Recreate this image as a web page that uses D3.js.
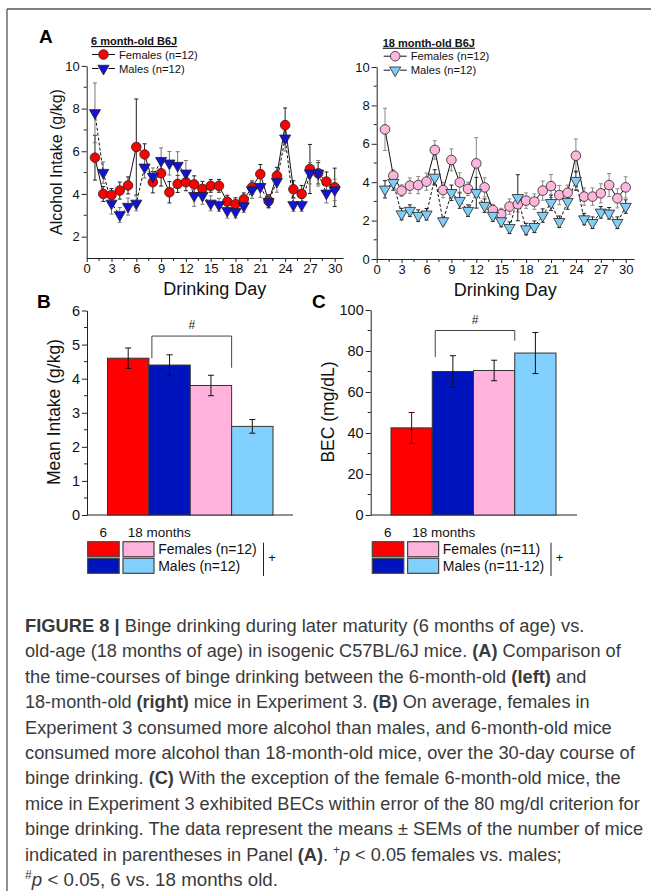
<!DOCTYPE html>
<html><head><meta charset="utf-8">
<script src="https://cdn.jsdelivr.net/npm/d3@7"></script>
<style>
body{margin:0;background:#fff}
svg{display:block}
text{font-family:"Liberation Sans",Arial,sans-serif}
</style>
</head><body>
<svg id="fig" width="651" height="891"></svg>
<script>
// ---------------- DATA ----------------
const days = d3.range(1, 31);
const fem6  = [5.7,4.0,3.95,4.16,4.4,6.2,5.85,4.55,4.97,4.08,4.47,4.55,4.45,4.24,4.38,4.38,3.64,3.52,3.75,4.31,4.93,3.67,4.85,7.23,4.22,4.0,5.17,4.97,4.58,4.31];
const fem6Err = [1.05,.35,.3,.4,.4,2.25,.5,.5,.6,.5,.4,.4,.4,.35,.3,.3,.3,.3,.3,.3,.45,.3,.4,.8,.4,.4,1.15,.5,.45,.9];
const mal6  = [7.8,5.0,3.56,3.02,3.41,3.56,5.25,4.82,5.56,5.44,5.33,4.97,3.92,3.92,3.56,3.49,3.22,3.17,3.44,4.19,4.34,3.64,4.58,6.61,3.49,3.49,4.97,4.97,4.03,4.19];
const mal6Err = [1.4,.5,.5,.35,.4,.35,.5,.4,.6,.55,.65,.6,.5,.4,.35,.3,.35,.3,.3,.4,.5,.3,.5,.6,.3,.3,.5,.6,.45,.5];
const fem18 = [6.75,4.34,3.56,3.82,3.85,4.03,5.68,3.59,5.16,3.99,3.65,4.98,3.73,2.55,2.34,2.73,2.85,3.04,2.99,3.56,3.8,3.33,3.45,5.38,3.25,3.25,3.42,3.85,3.16,3.73];
const fem18Err = [1.1,.3,.3,.4,.45,.45,.48,.4,.57,.5,.35,1.34,.5,.3,.3,.4,.4,.4,.4,.5,.6,.5,.4,.87,.45,.45,.5,.6,.5,.55];
const mal18 = [3.63,3.98,2.34,2.52,2.26,2.33,4.25,1.98,3.45,3.04,2.52,3.45,2.78,2.26,1.98,1.63,3.19,1.56,1.68,2.26,2.93,1.94,2.99,4.08,2.08,1.89,2.43,2.38,1.89,2.73];
const mal18Err = [.45,.4,.3,.3,.3,.3,.4,.2,.4,.4,.3,.8,.35,.3,.3,.3,1.2,.3,.3,.35,.4,.3,.4,.5,.3,.3,.3,.3,.3,.35];

const groups = ["F6","M6","F18","M18"];
const intakeMean = [4.6, 4.4, 3.8, 2.6];
const intakeSEM  = [0.3, 0.3, 0.3, 0.2];
const becMean = [42.5, 70, 70.5, 79];
const becSEM  = [7.5, 7.7, 5, 10];
const bracketB = [4.6, 5.25, 4.32];   // left leg bottom, top, right leg bottom
const bracketC = [77, 90, 85];

const dayTicks = d3.range(0, 31, 3);
const dayMinor = d3.range(1.5, 31, 3);
const leftYTicks = [2,4,6,8,10], leftYMinor = [3,5,7,9];
const rightYTicks = [0,2,4,6,8,10], rightYMinor = [1,3,5,7,9];
const bTicks = [0,1,2,3,4,5,6], bMinor = [0.5,1.5,2.5,3.5,4.5,5.5];
const cTicks = [0,20,40,60,80,100], cMinor = [10,30,50,70,90];

const legendA6 = ["6 month-old B6J","Females (n=12)","Males (n=12)"];
const legendA18 = ["18 month-old B6J","Females (n=12)","Males (n=12)"];
const legendB = ["Females (n=12)","Males (n=12)"];
const legendC = ["Females (n=11)","Males (n=11-12)"];

const colors = {F6:"#ff0000", M6:"#0014bd", F18:"#ffb2dc", M18:"#82d0fd"};
const markerColors = {F6:"#ff0000", M6:"#1212d8", F18:"#ffb6dc", M18:"#80cef6"};

const caption = [
 [["FIGURE 8 | ","b"],["Binge drinking during later maturity (6 months of age) vs.","n"]],
 [["old-age (18 months of age) in isogenic C57BL/6J mice. ","n"],["(A)","b"],[" Comparison of","n"]],
 [["the time-courses of binge drinking between the 6-month-old ","n"],["(left)","b"],[" and","n"]],
 [["18-month-old ","n"],["(right)","b"],[" mice in Experiment 3. ","n"],["(B)","b"],[" On average, females in","n"]],
 [["Experiment 3 consumed more alcohol than males, and 6-month-old mice","n"]],
 [["consumed more alcohol than 18-month-old mice, over the 30-day course of","n"]],
 [["binge drinking. ","n"],["(C)","b"],[" With the exception of the female 6-month-old mice, the","n"]],
 [["mice in Experiment 3 exhibited BECs within error of the 80 mg/dl criterion for","n"]],
 [["binge drinking. The data represent the means \u00b1 SEMs of the number of mice","n"]],
 [["indicated in parentheses in Panel ","n"],["(A)","b"],[". ","n"],["+","sup"],["p","i"],[" < 0.05 females vs. males;","n"]],
 [["#","sup"],["p","i"],[" < 0.05, 6 vs. 18 months old.","n"]]
];
const captionEnds = [585,621,587,590,612,635,621,640,644,562,278];

// ---------------- DRAW ----------------
const svg = d3.select("#fig");
const AX = "#222";

// frame lines
svg.append("line").attr("x1",7).attr("y1",9).attr("x2",651).attr("y2",9).attr("stroke","#555").attr("stroke-width",1.3);
svg.append("line").attr("x1",7).attr("y1",9).attr("x2",7).attr("y2",891).attr("stroke","#555").attr("stroke-width",1.3);

function style(g, fs){
  g.selectAll("path,line").attr("stroke",AX).attr("stroke-width",1);
  g.selectAll("text").attr("fill","#111").style("font-size",fs+"px").style("font-family",'"Liberation Sans",Arial,sans-serif');
}
function minorY(g, scale, vals, x0){
  g.selectAll(null).data(vals).enter().append("line")
   .attr("x1",x0).attr("x2",x0-3).attr("y1",d=>scale(d)).attr("y2",d=>scale(d)).attr("stroke",AX);
}
function minorX(g, scale, vals, y0){
  g.selectAll(null).data(vals).enter().append("line")
   .attr("y1",y0).attr("y2",y0+3).attr("x1",d=>scale(d)).attr("x2",d=>scale(d)).attr("stroke",AX);
}
function drawMarker(g, shape, cx, cy, fill){
  if(shape==="circle"){
    g.append("circle").attr("cx",cx).attr("cy",cy).attr("r",4.8).attr("fill",fill).attr("stroke","#222").attr("stroke-width",0.8);
  } else {
    g.append("path").attr("d", d3.symbol().type(d3.symbolTriangle).size(54)())
      .attr("transform",`translate(${cx},${cy}) rotate(180)`).attr("fill",fill).attr("stroke","#222").attr("stroke-width",0.8);
  }
}

function timePanel(cfg){
  const x = d3.scaleLinear().domain([0,31]).range(cfg.xr);
  const y = d3.scaleLinear().domain(cfg.yd).range(cfg.yr);
  const g = svg.append("g");
  const gx = g.append("g").attr("transform",`translate(0,${cfg.yr[0]})`)
    .call(d3.axisBottom(x).tickValues(dayTicks).tickSize(4).tickSizeOuter(0).tickPadding(2));
  style(gx,13);
  minorX(g, x, dayMinor, cfg.yr[0]);
  const gy = g.append("g").attr("transform",`translate(${cfg.xr[0]},0)`)
    .call(d3.axisLeft(y).tickValues(cfg.yt).tickSize(5).tickSizeOuter(0).tickPadding(2));
  style(gy,13);
  minorY(g, y, cfg.ym, cfg.xr[0]);

  const series = [
    {v:cfg.f, e:cfg.fe, key:cfg.fk, shape:"circle", dash:null, ec:cfg.fec},
    {v:cfg.m, e:cfg.me, key:cfg.mk, shape:"tri", dash:"3,2", ec:cfg.mec}
  ];
  series.forEach(s=>{
    const eb = g.append("g").attr("stroke",s.ec).attr("stroke-width",1);
    days.forEach((d,i)=>{
      const xx=x(d), y1=y(s.v[i]-s.e[i]), y2=y(s.v[i]+s.e[i]);
      eb.append("line").attr("x1",xx).attr("x2",xx).attr("y1",y1).attr("y2",y2);
      eb.append("line").attr("x1",xx-2).attr("x2",xx+2).attr("y1",y1).attr("y2",y1);
      eb.append("line").attr("x1",xx-2).attr("x2",xx+2).attr("y1",y2).attr("y2",y2);
    });
  });
  series.forEach(s=>{
    g.append("path").datum(s.v).attr("fill","none").attr("stroke","#111").attr("stroke-width",1)
      .attr("stroke-dasharray",s.dash)
      .attr("d", d3.line().x((v,i)=>x(days[i])).y(v=>y(v)));
  });
  series.forEach(s=>{
    const mk = g.append("g");
    s.v.forEach((v,i)=>drawMarker(mk, s.shape, x(days[i]), y(v), markerColors[s.key]));
  });

  // legend
  const lg = g.append("g");
  lg.append("text").attr("x",cfg.lx).attr("y",cfg.ly).text(cfg.leg[0])
    .style("font-size","11px").style("font-weight","bold").style("text-decoration","underline").attr("fill","#111");
  [[cfg.fk,"circle"],[cfg.mk,"tri"]].forEach((r,i)=>{
    const cy = cfg.ly + 9.5 + i*14;
    const mx = cfg.lx + 12.5;
    lg.append("line").attr("x1",mx-11.5).attr("x2",mx-5).attr("y1",cy).attr("y2",cy).attr("stroke","#111");
    lg.append("line").attr("x1",mx+5).attr("x2",mx+11.5).attr("y1",cy).attr("y2",cy).attr("stroke","#111");
    drawMarker(lg, r[1], mx, cy, markerColors[r[0]]);
    lg.append("text").attr("x",mx+15.5).attr("y",cy+4).text(cfg.leg[i+1]).style("font-size","11.2px").attr("fill","#111");
  });

  g.append("text").attr("x",(cfg.xr[0]+cfg.xr[1])/2).attr("y",cfg.yr[0]+37).attr("text-anchor","middle")
    .style("font-size","18px").attr("fill","#111").text("Drinking Day");
  return {x,y};
}

timePanel({xr:[86.7,343], yr:[258,65.9], yd:[1,10], yt:leftYTicks, ym:leftYMinor,
  f:fem6, fe:fem6Err, m:mal6, me:mal6Err, fk:"F6", mk:"M6", fec:"#222", mec:"#777",
  lx:91, ly:45, leg:legendA6});
timePanel({xr:[376.7,634], yr:[259,67], yd:[0,10], yt:rightYTicks, ym:rightYMinor,
  f:fem18, fe:fem18Err, m:mal18, me:mal18Err, fk:"F18", mk:"M18", fec:"#888", mec:"#222",
  lx:382.7, ly:46.7, leg:legendA18});

svg.append("text").attr("transform","translate(62,162) rotate(-90)").attr("text-anchor","middle")
  .style("font-size","16px").attr("fill","#111").text("Alcohol Intake (g/kg)");

// panel letters
[["A",39,43],["B",37,308],["C",312,308]].forEach(p=>{
  svg.append("text").attr("x",p[1]).attr("y",p[2]).text(p[0]).style("font-size","19px").style("font-weight","bold").attr("fill","#000");
});

function barPanel(cfg){
  const x = d3.scaleBand().domain(groups).range(cfg.br).padding(0);
  const y = d3.scaleLinear().domain(cfg.yd).range([515, cfg.ytop]);
  const g = svg.append("g");
  g.append("line").attr("x1",cfg.ax).attr("x2",cfg.axEnd).attr("y1",515).attr("y2",515).attr("stroke",AX);
  const gy = g.append("g").attr("transform",`translate(${cfg.ax},0)`)
    .call(d3.axisLeft(y).tickValues(cfg.yt).tickFormat(d3.format("d")).tickSize(5).tickSizeOuter(0).tickPadding(2));
  style(gy,14.5);
  minorY(g, y, cfg.ym, cfg.ax);
  g.selectAll(null).data(groups).enter().append("rect")
    .attr("x",d=>x(d)).attr("width",x.bandwidth())
    .attr("y",(d,i)=>y(cfg.mean[i])).attr("height",(d,i)=>515-y(cfg.mean[i]))
    .attr("fill",d=>colors[d]).attr("stroke","#333").attr("stroke-width",1);
  groups.forEach((d,i)=>{
    const cx = x(d)+x.bandwidth()/2, y1=y(cfg.mean[i]-cfg.sem[i]), y2=y(cfg.mean[i]+cfg.sem[i]);
    const c = i===0 && cfg.darkRed ? "#500" : "#111";
    g.append("line").attr("x1",cx).attr("x2",cx).attr("y1",y1).attr("y2",y2).attr("stroke",c);
    [y1,y2].forEach(yy=>g.append("line").attr("x1",cx-3).attr("x2",cx+3).attr("y1",yy).attr("y2",yy).attr("stroke",c));
  });
  const bl = x("M6")+3, br = x("F18")+x.bandwidth();
  g.append("path").attr("fill","none").attr("stroke","#444").attr("stroke-width",1)
    .attr("d",`M${bl},${y(cfg.br3[0])}V${y(cfg.br3[1])}H${br}V${y(cfg.br3[2])}`);
  g.append("text").attr("x",(bl+br)/2).attr("y",y(cfg.br3[1])-7).attr("text-anchor","middle")
    .style("font-size","12px").attr("fill","#222").text("#");
  g.append("text").attr("transform",`translate(${cfg.labX},412) rotate(-90)`).attr("text-anchor","middle")
    .style("font-size","17.5px").attr("fill","#111").text(cfg.label);
  const lx = cfg.lgx;
  g.append("text").attr("x",lx+15.5).attr("y",536.5).attr("text-anchor","middle").style("font-size","13.5px").attr("fill","#111").text("6");
  g.append("text").attr("x",lx+40).attr("y",536.5).style("font-size","13.5px").attr("fill","#111").text("18 months");
  [["F6","F18"],["M6","M18"]].forEach((r,i)=>{
    const yy = 541.7 + i*16.6;
    g.append("rect").attr("x",lx).attr("y",yy).attr("width",31.5).attr("height",15).attr("fill",colors[r[0]]).attr("stroke","#444").attr("stroke-width",1.2);
    g.append("rect").attr("x",lx+35.3).attr("y",yy).attr("width",31).attr("height",15).attr("fill",colors[r[1]]).attr("stroke","#444").attr("stroke-width",1.2);
    g.append("text").attr("x",lx+70.5).attr("y",yy+12.5).style("font-size","14px").attr("fill","#111").text(cfg.leg[i]);
  });
  g.append("line").attr("x1",cfg.vbar).attr("x2",cfg.vbar).attr("y1",542.7).attr("y2",576).attr("stroke","#222");
  g.append("text").attr("x",cfg.vbar+8.5).attr("y",562).attr("text-anchor","middle").style("font-size","13px").attr("fill","#111").text("+");
}
barPanel({br:[107.5,273], ax:87, axEnd:293, yd:[0,6], ytop:310.5, yt:bTicks, ym:bMinor,
  mean:intakeMean, sem:intakeSEM, br3:bracketB, label:"Mean Intake (g/kg)", labX:60,
  lgx:87.7, leg:legendB, vbar:263.5});
barPanel({br:[391,556], ax:370.7, axEnd:577, yd:[0,100], ytop:310, yt:cTicks, ym:cMinor,
  mean:becMean, sem:becSEM, br3:bracketC, label:"BEC (mg/dL)", labX:334, darkRed:true,
  lgx:372.3, leg:legendC, vbar:551});

// caption
const cap = svg.append("g");
caption.forEach((line,i)=>{
  const gl = cap.append("g");
  const t = gl.append("text").attr("x",0).attr("y",0).style("font-size","18.5px").attr("fill","#3a3a3a").style("white-space","pre");
  let shift = 0;
  line.forEach(seg=>{
    const ts = t.append("tspan").text(seg[0]);
    if(seg[1]==="b") ts.style("font-weight","bold");
    if(seg[1]==="i") ts.style("font-style","italic");
    if(seg[1]==="sup"){ ts.style("font-size","12px").attr("dy",-7); shift=7; }
    else if(shift){ ts.attr("dy",shift); shift=0; }
  });
  const w = t.node().getComputedTextLength();
  const target = captionEnds[i]-25;
  gl.attr("transform",`translate(25,${632+i*25.4}) scale(${target/w},1)`);
});
</script>
</body></html>
